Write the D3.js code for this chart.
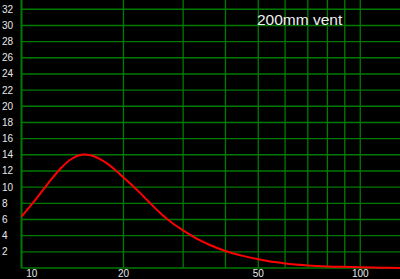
<!DOCTYPE html>
<html>
<head>
<meta charset="utf-8">
<script src="https://cdn.jsdelivr.net/npm/d3@7"></script>
<style>
  html, body { margin: 0; padding: 0; background: #000; }
  svg { display: block; }
</style>
</head>
<body>
<div id="chart"></div>
<script>
/* Response curve of the 200mm vent */
var freqs = [10, 11, 12, 13, 14, 15, 16, 17, 18, 19, 20, 22, 24, 26, 28, 30, 33, 36, 40, 45, 50, 55, 60, 70, 80, 90, 100, 115, 131];
var levels = [6.35, 8.45, 10.5, 12.25, 13.45, 14.0, 13.95, 13.5, 12.85, 12.05, 11.2, 9.6, 8.0, 6.6, 5.5, 4.65, 3.6, 2.85, 2.1, 1.5, 1.07, 0.78, 0.55, 0.32, 0.2, 0.14, 0.1, 0.04, 0];

/* Grid and tick labels */
var xGrid = [10, 20, 30, 40, 50, 60, 70, 80, 90, 100];
var xLabels = [10, 20, 50, 100];
var yTicks = [2, 4, 6, 8, 10, 12, 14, 16, 18, 20, 22, 24, 26, 28, 30, 32];
var title = "200mm vent";

var width = 400, height = 279;
var left = 21.5, bottom = 268;

var x = d3.scaleLog().domain([10, 131]).range([left, 400]);
var y = d3.scaleLinear().domain([0, 32]).range([bottom, 9.3]);

var svg = d3.select("#chart")
	.append("svg")
	.attr("width", width)
	.attr("height", height);

svg.append("rect")
	.attr("width", width)
	.attr("height", height)
	.attr("fill", "#000");

var grid = "#007a00";

// horizontal grid lines
svg.selectAll(".hgrid")
	.data(yTicks)
	.enter().append("line")
	.attr("x1", left)
	.attr("x2", width)
	.attr("y1", function(d) { return y(d); })
	.attr("y2", function(d) { return y(d); })
	.attr("stroke", grid)
	.attr("stroke-width", 1.4);

// vertical grid lines
svg.selectAll(".vgrid")
	.data(xGrid)
	.enter().append("line")
	.attr("x1", function(d) { return x(d); })
	.attr("x2", function(d) { return x(d); })
	.attr("y1", 0)
	.attr("y2", bottom)
	.attr("stroke", grid)
	.attr("stroke-width", function(d) { return d == 10 ? 2 : 1.3; });

// bottom axis line
svg.append("line")
	.attr("x1", left)
	.attr("x2", width)
	.attr("y1", bottom)
	.attr("y2", bottom)
	.attr("stroke", grid)
	.attr("stroke-width", 1.6);

// y tick labels
svg.selectAll(".ylab")
	.data(yTicks)
	.enter().append("text")
	.attr("x", 2)
	.attr("y", function(d) { return y(d); })
	.attr("dy", "0.35em")
	.attr("fill", "#e8e8e8")
	.attr("font-family", "Liberation Sans, Arial, sans-serif")
	.attr("font-size", "10px")
	.text(function(d) { return d; });

// x tick labels (first one kept inside the plot)
svg.selectAll(".xlab")
	.data(xLabels)
	.enter().append("text")
	.attr("x", function(d) { return Math.max(x(d), 31.7); })
	.attr("y", 277)
	.attr("text-anchor", "middle")
	.attr("fill", "#e8e8e8")
	.attr("font-family", "Liberation Sans, Arial, sans-serif")
	.attr("font-size", "10px")
	.text(function(d) { return d; });

// the curve
var line = d3.line()
	.x(function(d, i) { return x(freqs[i]); })
	.y(function(d) { return y(d); })
	.curve(d3.curveCatmullRom.alpha(0.5));

svg.append("path")
	.datum(levels)
	.attr("d", line)
	.attr("fill", "none")
	.attr("stroke", "#ff0000")
	.attr("stroke-width", 2);

// title
svg.append("text")
	.attr("x", 257)
	.attr("y", 25)
	.attr("fill", "#f0f0f0")
	.attr("font-family", "Liberation Sans, Arial, sans-serif")
	.attr("font-size", "15.5px")
	.text(title);
</script>
</body>
</html>
